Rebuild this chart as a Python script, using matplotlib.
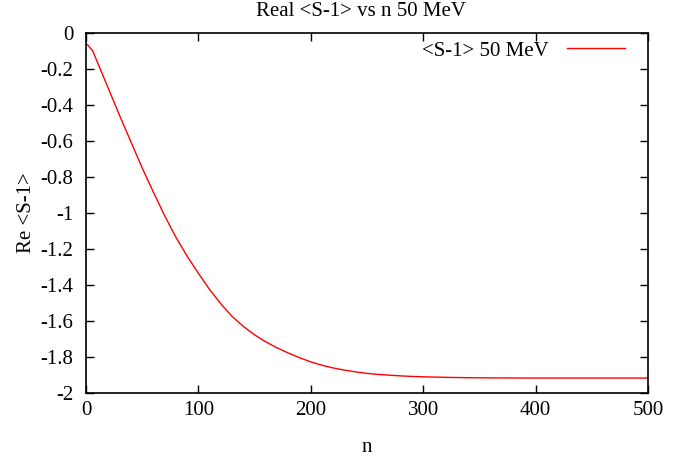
import matplotlib
matplotlib.use("Agg")
import matplotlib.pyplot as plt

# wartosci
n_vals = [0, 2, 4, 6, 8, 10, 15, 20, 30, 40, 50, 60, 70, 80, 90, 100, 110,
          120, 130, 140, 150, 160, 170, 180, 190, 200, 210, 220, 230, 240,
          250, 260, 270, 280, 290, 300, 320, 340, 360, 400, 450, 500]
re_s1 = [-0.06, -0.07, -0.085, -0.10, -0.13, -0.16, -0.235, -0.31, -0.46,
         -0.605, -0.75, -0.885, -1.015, -1.135, -1.24, -1.335, -1.425,
         -1.505, -1.575, -1.630, -1.677, -1.716, -1.749, -1.778, -1.804,
         -1.827, -1.846, -1.861, -1.873, -1.883, -1.891, -1.897, -1.901,
         -1.905, -1.908, -1.910, -1.913, -1.915, -1.916, -1.917, -1.917,
         -1.917]

x_ticks = [0, 100, 200, 300, 400, 500]
y_ticks = [0, -0.2, -0.4, -0.6, -0.8, -1, -1.2, -1.4, -1.6, -1.8, -2]
y_labels = ["0", "-0.2", "-0.4", "-0.6", "-0.8", "-1", "-1.2", "-1.4",
            "-1.6", "-1.8", "-2"]

plt.rcParams["font.family"] = ["Liberation Serif", "DejaVu Serif"]
plt.rcParams["font.size"] = 15
plt.rcParams["axes.unicode_minus"] = False

fig = plt.figure(figsize=(6.84, 4.62), dpi=100)
ax = fig.add_axes([86 / 684, 1 - 393 / 462, 562 / 684, 360 / 462])

ax.plot(n_vals, re_s1, color="red", linewidth=1.0, label="<S-1> 50 MeV")

ax.set_xlim(0, 500)
ax.set_ylim(-2, 0)
ax.set_xticks(x_ticks)
ax.set_yticks(y_ticks)
ax.set_yticklabels(y_labels)
ax.tick_params(direction="in", top=True, right=True, length=6, width=1)
ax.tick_params(axis="y", pad=9)
ax.tick_params(axis="x", pad=6)
for s in ax.spines.values():
    s.set_linewidth(1.2)

# tytul wycentrowany jak w gnuplocie
fig.text(361 / 684, 1 - 12 / 462, "Real <S-1> vs n 50 MeV",
         ha="center", va="center", fontsize=15)
ax.set_xlabel("n", labelpad=13)
ax.set_ylabel("Re <S-1>", labelpad=3)

ax.legend(loc="upper right", frameon=False, markerfirst=False,
          handlelength=2.8, handletextpad=0.85, borderaxespad=0.0,
          borderpad=0.3, bbox_to_anchor=(0.97, 0.995), fontsize=15)

fig.savefig("out.png", dpi=100)
